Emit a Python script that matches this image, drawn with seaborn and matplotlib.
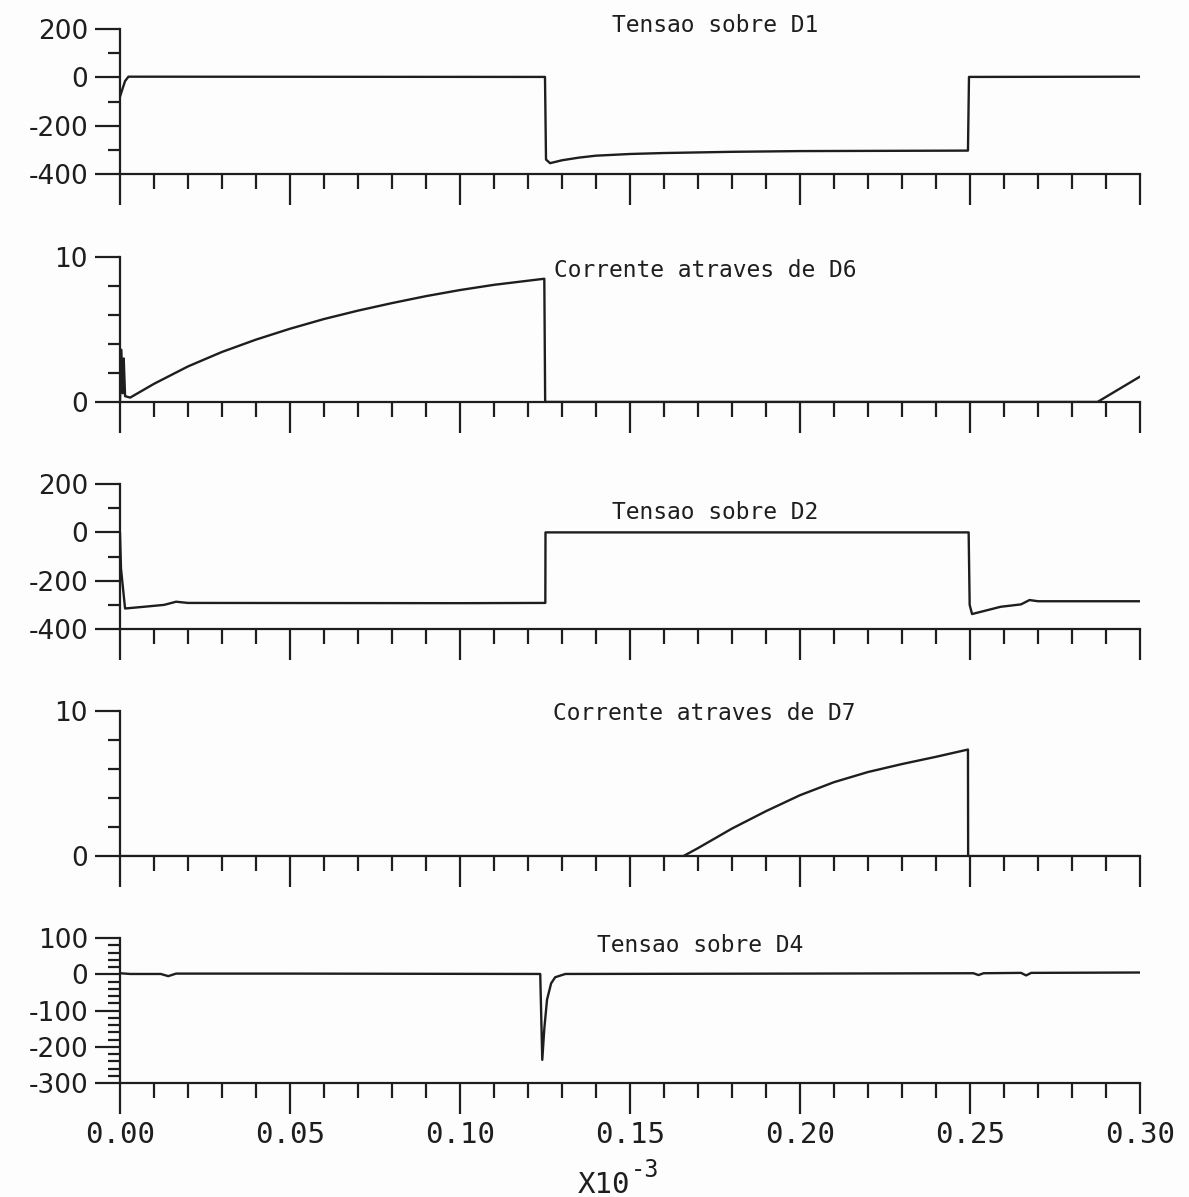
import matplotlib
matplotlib.use("Agg")
import matplotlib.pyplot as plt
import seaborn as sns
import pandas as pd
from matplotlib.ticker import MultipleLocator, FormatStrFormatter

# time axis in units of 1e-3 s
d1_t = [0.0, 0.0008, 0.0015, 0.0025, 0.125, 0.1253, 0.1265, 0.13, 0.135, 0.14,
        0.15, 0.16, 0.18, 0.20, 0.2494, 0.2497, 0.30]
d1_v = [-80, -45, -15, 3, 2, -340, -355, -343, -332, -324,
        -317, -313, -308, -305, -303, 2, 3]

d6_t = [0.0, 0.0004, 0.0008, 0.0011, 0.0015, 0.003, 0.01, 0.02, 0.03, 0.04,
        0.05, 0.06, 0.07, 0.08, 0.09, 0.10, 0.11, 0.1248, 0.12505, 0.2875, 0.30]
d6_v = [0, 3.6, 0.6, 3.0, 0.4, 0.3, 1.25, 2.45, 3.45, 4.3,
        5.05, 5.72, 6.3, 6.82, 7.3, 7.72, 8.08, 8.5, 0, 0, 1.75]

d2_t = [0.0, 0.0003, 0.0015, 0.007, 0.013, 0.0165, 0.02, 0.10, 0.1251, 0.12515,
        0.2496, 0.2499, 0.2506, 0.259, 0.265, 0.2675, 0.27, 0.30]
d2_v = [0, -150, -315, -308, -300, -287, -292, -293, -292, 0,
        0, -300, -338, -308, -298, -280, -285, -285]

d7_t = [0.0, 0.1657, 0.17, 0.18, 0.19, 0.20, 0.21, 0.22, 0.23, 0.24, 0.2494, 0.24945, 0.30]
d7_v = [0, 0, 0.55, 1.9, 3.1, 4.2, 5.1, 5.8, 6.35, 6.85, 7.35, 0, 0]

d4_t = [0.0, 0.003, 0.012, 0.0142, 0.0165, 0.05, 0.1236, 0.1242, 0.1248, 0.1256,
        0.1268, 0.128, 0.131, 0.20, 0.251, 0.2525, 0.254, 0.265, 0.2665, 0.268, 0.30]
d4_v = [3, 1, 1, -5, 2, 2, 1, -236, -150, -70,
        -25, -8, 1, 2, 3, -2, 3, 4, -3, 4, 5]

titles = ["Tensao sobre D1", "Corrente atraves de D6", "Tensao sobre D2",
          "Corrente atraves de D7", "Tensao sobre D4"]
series = [(d1_t, d1_v), (d6_t, d6_v), (d2_t, d2_v), (d7_t, d7_v), (d4_t, d4_v)]
ylims = [(-400, 200), (0, 10), (-400, 200), (0, 10), (-300, 100)]
ymajor = [200, 10, 200, 10, 100]
yminor = [100, 2, 100, 2, 20]
title_pos = [(0.583, 1.028), (0.574, 0.910), (0.583, 0.807), (0.573, 0.986), (0.569, 0.952)]

sns.set_style("ticks")
plt.rcParams['font.family'] = ['DejaVu Sans']
plt.rcParams['axes.unicode_minus'] = False

ink = '#1e1e1e'
fig = plt.figure(figsize=(11.89, 11.97), dpi=100)
fig.patch.set_facecolor('#fdfdfd')

bottoms = [0.8546, 0.6642, 0.4745, 0.2848, 0.0952]
for i, ((t, v), title) in enumerate(zip(series, titles)):
    ax = fig.add_axes([0.1009, bottoms[i], 0.8579, 0.1211])
    ax.set_facecolor('#fdfdfd')
    df = pd.DataFrame({'t': t, 'v': v})
    sns.lineplot(data=df, x='t', y='v', ax=ax, color=ink, lw=1.7,
                 estimator=None, sort=False)
    ax.set_xlim(0, 0.30)
    ax.set_ylim(*ylims[i])
    ax.xaxis.set_major_locator(MultipleLocator(0.05))
    ax.xaxis.set_minor_locator(MultipleLocator(0.01))
    ax.yaxis.set_major_locator(MultipleLocator(ymajor[i]))
    ax.yaxis.set_minor_locator(MultipleLocator(yminor[i]))
    sns.despine(ax=ax)
    for s in ['left', 'bottom']:
        ax.spines[s].set_linewidth(1.6)
        ax.spines[s].set_color(ink)
    ax.tick_params(axis='x', which='major', direction='out', length=22, width=1.6, color=ink, pad=5)
    ax.tick_params(axis='x', which='minor', direction='out', length=11, width=1.6, color=ink)
    ax.tick_params(axis='y', which='major', direction='out', length=18, width=1.6, color=ink, pad=5)
    ax.tick_params(axis='y', which='minor', direction='out', length=9, width=1.6, color=ink)
    for lab in ax.get_yticklabels():
        lab.set_fontsize(19)
        lab.set_color(ink)
    ax.set_xlabel('')
    ax.set_ylabel('')
    if i < 4:
        ax.set_xticklabels([])
    else:
        ax.xaxis.set_major_formatter(FormatStrFormatter('%.2f'))
        for lab in ax.get_xticklabels():
            lab.set_fontsize(21)
            lab.set_family('DejaVu Sans Mono')
            lab.set_color(ink)
    ax.text(title_pos[i][0], title_pos[i][1], title, transform=ax.transAxes,
            ha='center', va='center', fontsize=16.5, family='DejaVu Sans Mono', color=ink)

fig.text(578 / 1189, 1 - 1193 / 1197, 'X10', ha='left', va='baseline',
         fontsize=21, family='DejaVu Sans Mono', color=ink)
fig.text(631 / 1189, 1 - 1177 / 1197, '-3', ha='left', va='baseline',
         fontsize=17, family='DejaVu Sans Mono', color=ink)

fig.savefig('out.png', dpi=100, facecolor=fig.get_facecolor())
